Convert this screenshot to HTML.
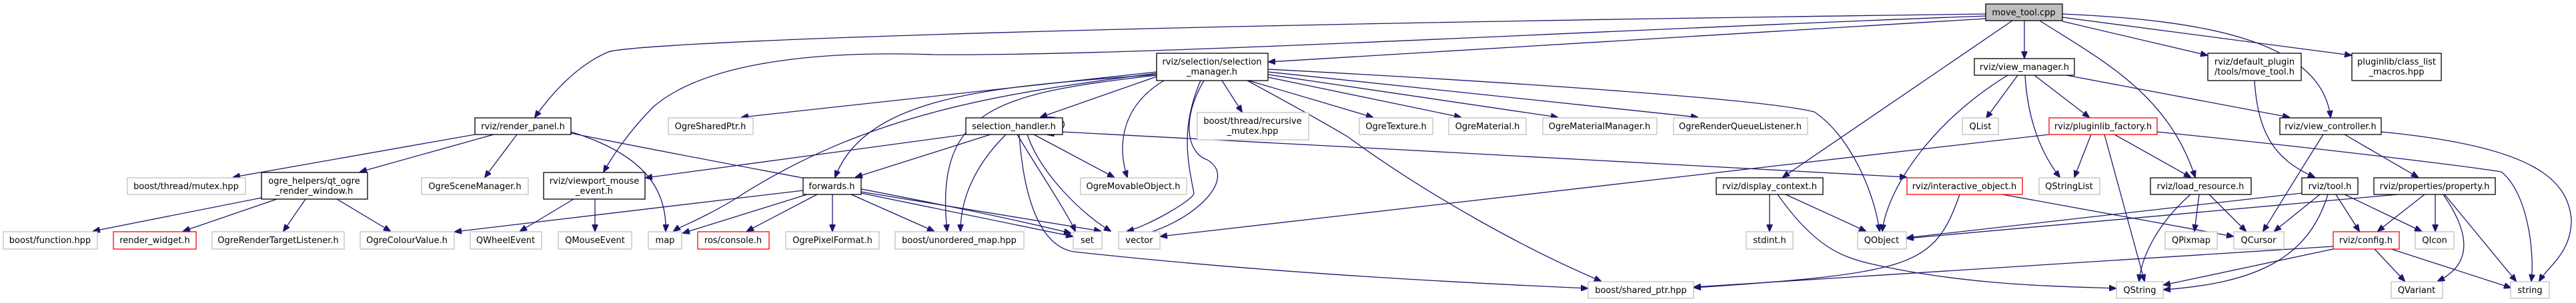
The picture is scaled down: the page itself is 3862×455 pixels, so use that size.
<!DOCTYPE html>
<html><head><meta charset="utf-8"><style>
html,body{margin:0;padding:0;background:#fff;width:3862px;height:455px;overflow:hidden}
svg{display:block}
text{font-family:"DejaVu Sans","Liberation Sans",sans-serif;font-size:13px;fill:#000;text-anchor:middle}
.e{fill:none;stroke:#191970;stroke-width:1.3}
.n{fill:#fff;stroke:#000;stroke-width:1.3}
.g{fill:#fff;stroke:#bfbfbf;stroke-width:1.3}
.r{fill:#fff;stroke:#ff0000;stroke-width:1.3}
.m{fill:#bfbfbf;stroke:#000;stroke-width:1.3}
</style></head><body>
<svg width="3862" height="455" viewBox="0 0 3862 455" xmlns="http://www.w3.org/2000/svg">
<defs><marker id="a" markerWidth="11" markerHeight="9" refX="10" refY="4.5" orient="auto" markerUnits="userSpaceOnUse"><path d="M0,0 L11,4.5 L0,9 z" fill="#191970" stroke="#191970"/></marker></defs>
<g class="e" marker-end="url(#a)">
<path d="M2977,21 C1500,40 950,65 912,78 C860,100 820,150 802,176"/>
<path d="M2977,24 C2400,45 1700,85 1400,82 C1200,75 1050,100 980,160 C940,200 915,240 905,258"/>
<path d="M2977,28 L1902,93"/>
<path d="M3035,31 L3035,87"/>
<path d="M3017,31 L2673,266"/>
<path d="M3058,31 C3150,90 3250,140 3291,266"/>
<path d="M3092,32 L3309,83"/>
<path d="M3092,26 L3525,83"/>
<path d="M3092,21 C3300,30 3480,60 3494,176"/>
<path d="M3025,113 L2978,177"/>
<path d="M3010,113 C2900,180 2830,280 2822,347"/>
<path d="M3036,113 C3040,180 3060,230 3088,266"/>
<path d="M3050,113 L3132,176"/>
<path d="M3098,113 L3432,176"/>
<path d="M3072,202 L1740,355"/>
<path d="M3135,202 L3110,266"/>
<path d="M3155,202 L3215,422"/>
<path d="M3170,202 L3284,266"/>
<path d="M3234,198 C3500,225 3700,250 3750,258 C3790,290 3800,380 3795,422"/>
<path d="M1734,108 L1112,176"/>
<path d="M1734,110 C1500,140 1300,170 1100,300 C1050,330 1020,340 1010,347"/>
<path d="M1734,112 C1500,130 1300,140 1252,266"/>
<path d="M1734,113 C1500,140 1400,160 1420,347"/>
<path d="M1734,115 L1560,176"/>
<path d="M1745,121 C1680,160 1675,220 1690,266"/>
<path d="M1800,121 C1770,190 1780,240 1790,290 C1790,300 1720,340 1690,347"/>
<path d="M1805,121 C1770,180 1780,230 1810,240 C1860,270 1780,340 1700,355"/>
<path d="M1832,121 L1862,168"/>
<path d="M1870,121 C1960,170 1995,190 2020,205 C2150,300 2300,380 2400,422"/>
<path d="M1872,121 L2058,176"/>
<path d="M1901,116 L2190,176"/>
<path d="M1901,112 L2335,176"/>
<path d="M1901,108 L2545,176"/>
<path d="M1901,104 C2300,125 2650,150 2720,168 C2775,205 2810,290 2818,347"/>
<path d="M1560,177 C1600,170 1610,195 1570,202"/>
<path d="M1448,202 L968,267"/>
<path d="M1485,202 L1283,266"/>
<path d="M1508,202 C1460,250 1440,300 1440,347"/>
<path d="M1550,202 L1670,266"/>
<path d="M1593,198 C2000,220 2500,245 2858,266"/>
<path d="M1540,202 C1560,260 1620,320 1665,347"/>
<path d="M1525,202 C1560,260 1600,320 1612,347"/>
<path d="M1528,202 C1535,300 1560,370 1610,378 C1900,410 2200,425 2380,433"/>
<path d="M1204,286 L682,348"/>
<path d="M1210,292 L1024,350"/>
<path d="M1225,292 L1120,347"/>
<path d="M1248,292 L1248,347"/>
<path d="M1276,292 L1400,347"/>
<path d="M1291,290 L1608,355"/>
<path d="M1291,288 L1650,347"/>
<path d="M712,202 L350,266"/>
<path d="M740,202 L540,258"/>
<path d="M775,202 L727,266"/>
<path d="M856,198 C960,230 1000,280 998,347"/>
<path d="M856,200 C1100,250 1400,300 1605,350"/>
<path d="M392,297 L140,347"/>
<path d="M415,299 L275,347"/>
<path d="M458,299 L425,347"/>
<path d="M505,299 L585,347"/>
<path d="M860,299 L780,347"/>
<path d="M892,299 L892,347"/>
<path d="M2653,292 L2653,347"/>
<path d="M2677,292 L2797,347"/>
<path d="M2665,292 C2720,370 2760,385 2800,395 C2950,430 3100,430 3172,433"/>
<path d="M2938,292 C2900,400 2870,410 2540,432"/>
<path d="M3002,292 L3348,355"/>
<path d="M3451,290 L2859,357"/>
<path d="M3595,292 L2859,358"/>
<path d="M3498,370 L2540,431"/>
<path d="M3284,292 C3230,340 3210,390 3207,422"/>
<path d="M3297,292 L3290,347"/>
<path d="M3312,292 L3367,347"/>
<path d="M3478,292 L3410,347"/>
<path d="M3490,292 C3460,390 3380,425 3244,435"/>
<path d="M3502,292 L3537,347"/>
<path d="M3515,292 L3630,347"/>
<path d="M3635,292 L3565,347"/>
<path d="M3651,292 L3651,347"/>
<path d="M3663,292 C3710,360 3700,400 3655,422"/>
<path d="M3665,292 L3772,422"/>
<path d="M3498,374 L3244,428"/>
<path d="M3560,374 L3605,422"/>
<path d="M3585,374 L3764,432"/>
<path d="M3483,202 C3440,270 3410,320 3393,347"/>
<path d="M3515,202 L3625,266"/>
<path d="M3570,198 C3800,220 3850,270 3855,330 C3855,380 3820,400 3807,422"/>
<path d="M3380,121 C3385,200 3410,240 3470,266"/>
</g>
<g>
<rect class="m" x="2977" y="6" width="115" height="25"/><text x="3034" y="23">move_tool.cpp</text>
<rect class="n" x="1734" y="80" width="167" height="41"/><text x="1817" y="97">rviz/selection/selection</text><text x="1817" y="112">_manager.h</text>
<rect class="n" x="2960" y="88" width="150" height="25"/><text x="3035" y="105">rviz/view_manager.h</text>
<rect class="n" x="3310" y="80" width="140" height="41"/><text x="3380" y="97">rviz/default_plugin</text><text x="3380" y="112">/tools/move_tool.h</text>
<rect class="n" x="3526" y="80" width="134" height="41"/><text x="3593" y="97">pluginlib/class_list</text><text x="3593" y="112">_macros.hpp</text>
<rect class="n" x="712" y="177" width="144" height="25"/><text x="784" y="194">rviz/render_panel.h</text>
<rect class="g" x="1002" y="177" width="127" height="25"/><text x="1065" y="194">OgreSharedPtr.h</text>
<rect class="n" x="1448" y="177" width="145" height="25"/><text x="1520" y="194">selection_handler.h</text>
<rect class="g" x="1795" y="169" width="167" height="41"/><text x="1878" y="186">boost/thread/recursive</text><text x="1878" y="201">_mutex.hpp</text>
<rect class="g" x="2038" y="177" width="110" height="25"/><text x="2093" y="194">OgreTexture.h</text>
<rect class="g" x="2172" y="177" width="116" height="25"/><text x="2230" y="194">OgreMaterial.h</text>
<rect class="g" x="2313" y="177" width="171" height="25"/><text x="2398" y="194">OgreMaterialManager.h</text>
<rect class="g" x="2509" y="177" width="201" height="25"/><text x="2609" y="194">OgreRenderQueueListener.h</text>
<rect class="g" x="2942" y="177" width="54" height="25"/><text x="2969" y="194">QList</text>
<rect class="r" x="3072" y="177" width="162" height="25"/><text x="3153" y="194">rviz/pluginlib_factory.h</text>
<rect class="n" x="3418" y="177" width="152" height="25"/><text x="3494" y="194">rviz/view_controller.h</text>
<rect class="g" x="191" y="267" width="177" height="25"/><text x="279" y="284">boost/thread/mutex.hpp</text>
<rect class="n" x="392" y="259" width="159" height="40"/><text x="471" y="276">ogre_helpers/qt_ogre</text><text x="471" y="291">_render_window.h</text>
<rect class="g" x="632" y="267" width="160" height="25"/><text x="712" y="284">OgreSceneManager.h</text>
<rect class="n" x="815" y="259" width="152" height="40"/><text x="891" y="276">rviz/viewport_mouse</text><text x="891" y="291">_event.h</text>
<rect class="n" x="1204" y="267" width="87" height="25"/><text x="1247" y="284">forwards.h</text>
<rect class="g" x="1620" y="267" width="159" height="25"/><text x="1699" y="284">OgreMovableObject.h</text>
<rect class="n" x="2573" y="267" width="160" height="25"/><text x="2653" y="284">rviz/display_context.h</text>
<rect class="r" x="2859" y="267" width="173" height="25"/><text x="2945" y="284">rviz/interactive_object.h</text>
<rect class="g" x="3057" y="267" width="91" height="25"/><text x="3102" y="284">QStringList</text>
<rect class="n" x="3224" y="267" width="151" height="25"/><text x="3299" y="284">rviz/load_resource.h</text>
<rect class="n" x="3451" y="267" width="84" height="25"/><text x="3493" y="284">rviz/tool.h</text>
<rect class="n" x="3559" y="267" width="182" height="25"/><text x="3650" y="284">rviz/properties/property.h</text>
<rect class="g" x="5" y="348" width="141" height="26"/><text x="75" y="365">boost/function.hpp</text>
<rect class="r" x="170" y="348" width="124" height="26"/><text x="232" y="365">render_widget.h</text>
<rect class="g" x="318" y="348" width="198" height="26"/><text x="417" y="365">OgreRenderTargetListener.h</text>
<rect class="g" x="540" y="348" width="141" height="26"/><text x="610" y="365">OgreColourValue.h</text>
<rect class="g" x="705" y="348" width="107" height="26"/><text x="758" y="365">QWheelEvent</text>
<rect class="g" x="837" y="348" width="110" height="26"/><text x="892" y="365">QMouseEvent</text>
<rect class="g" x="972" y="348" width="50" height="26"/><text x="997" y="365">map</text>
<rect class="r" x="1046" y="348" width="107" height="26"/><text x="1099" y="365">ros/console.h</text>
<rect class="g" x="1178" y="348" width="140" height="26"/><text x="1248" y="365">OgrePixelFormat.h</text>
<rect class="g" x="1342" y="348" width="193" height="26"/><text x="1438" y="365">boost/unordered_map.hpp</text>
<rect class="g" x="1609" y="348" width="43" height="26"/><text x="1630" y="365">set</text>
<rect class="g" x="1677" y="348" width="62" height="26"/><text x="1708" y="365">vector</text>
<rect class="g" x="2618" y="348" width="70" height="26"/><text x="2653" y="365">stdint.h</text>
<rect class="g" x="2785" y="348" width="73" height="26"/><text x="2821" y="365">QObject</text>
<rect class="g" x="3246" y="348" width="78" height="26"/><text x="3285" y="365">QPixmap</text>
<rect class="g" x="3349" y="348" width="75" height="26"/><text x="3386" y="365">QCursor</text>
<rect class="r" x="3498" y="348" width="99" height="26"/><text x="3547" y="365">rviz/config.h</text>
<rect class="g" x="3621" y="348" width="58" height="26"/><text x="3650" y="365">QIcon</text>
<rect class="g" x="2381" y="423" width="158" height="25"/><text x="2460" y="440">boost/shared_ptr.hpp</text>
<rect class="g" x="3173" y="423" width="70" height="25"/><text x="3208" y="440">QString</text>
<rect class="g" x="3585" y="423" width="77" height="25"/><text x="3623" y="440">QVariant</text>
<rect class="g" x="3764" y="423" width="58" height="25"/><text x="3793" y="440">string</text>
</g>
</svg>
</body></html>
